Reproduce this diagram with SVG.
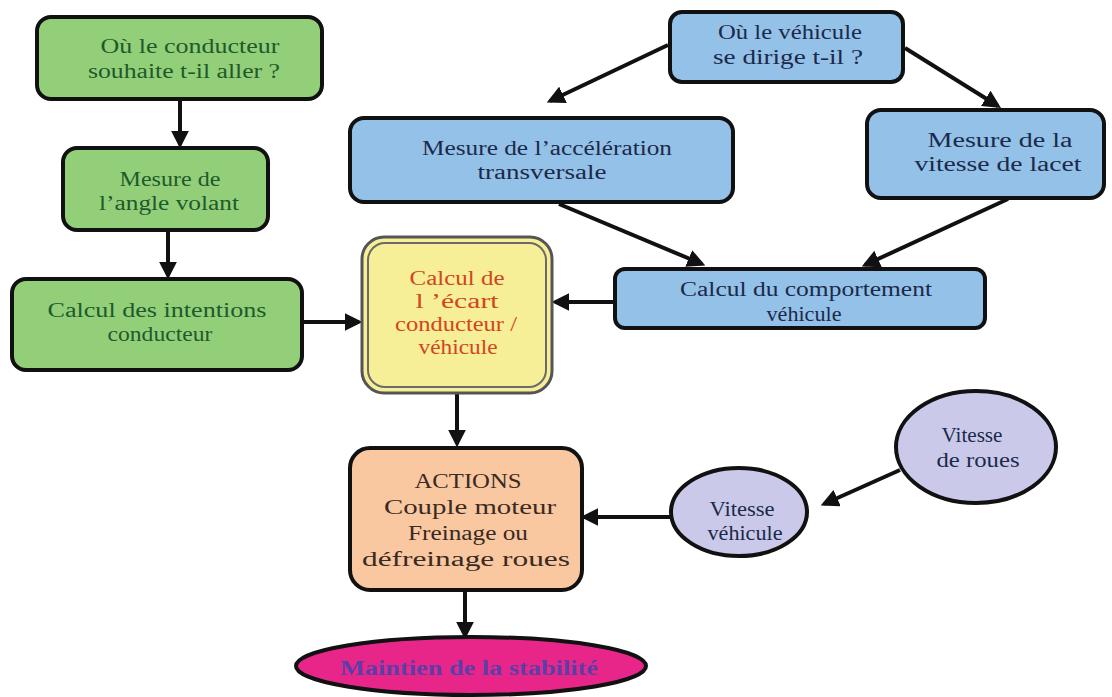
<svg xmlns="http://www.w3.org/2000/svg" width="1112" height="697" viewBox="0 0 1112 697">
<style>
.box{stroke:#111;stroke-width:4}
.g{fill:#93cf79}
.b{fill:#94c1e8}
.t{font-family:'Liberation Serif','DejaVu Serif',serif;font-size:20px;text-anchor:middle}
.tg{fill:#1f5a2c}
.tb{fill:#1b2a4a}
.tr{fill:#d2461e}
.to{fill:#3a2a22}
.tp{fill:#5b3fa8;font-weight:bold}
.c{stroke:#111;stroke-width:4;fill:none;marker-end:url(#ah)}
</style>
<defs>
<marker id="ah" viewBox="0 0 10 10" refX="8" refY="5" markerWidth="4.5" markerHeight="4.5" orient="auto" markerUnits="strokeWidth">
<path d="M0,0 L10,5 L0,10 z" fill="#111"/>
</marker>
</defs>
<rect width="1112" height="697" fill="#fff"/>
<g id="connectors">
<line class="c" x1="180" y1="100" x2="180" y2="145"/>
<line class="c" x1="168" y1="230" x2="168" y2="276"/>
<line class="c" x1="302" y1="322" x2="359" y2="322"/>
<line class="c" x1="668" y1="45" x2="550" y2="101"/>
<line class="c" x1="905" y1="48" x2="998" y2="106"/>
<line class="c" x1="559" y1="204" x2="702" y2="264"/>
<line class="c" x1="1008" y1="199" x2="865" y2="265"/>
<line class="c" x1="615" y1="302" x2="555" y2="302"/>
<line class="c" x1="457" y1="393" x2="457" y2="444"/>
<line class="c" x1="900" y1="470" x2="824" y2="504"/>
<line class="c" x1="670" y1="517" x2="584" y2="517"/>
<line class="c" x1="465" y1="590" x2="465" y2="636"/>
</g>
<g id="n1">
<rect class="box g" x="37" y="17" width="285" height="82" rx="14"/>
<text class="t tg" x="190" y="53" textLength="179" lengthAdjust="spacingAndGlyphs">Où le conducteur</text>
<text class="t tg" x="184" y="78" textLength="192" lengthAdjust="spacingAndGlyphs">souhaite t-il aller ?</text>
</g>
<g id="n2">
<rect class="box g" x="63" y="148" width="205" height="82" rx="14"/>
<text class="t tg" x="170" y="186" textLength="101" lengthAdjust="spacingAndGlyphs">Mesure de</text>
<text class="t tg" x="169" y="210" textLength="140" lengthAdjust="spacingAndGlyphs">l’angle volant</text>
</g>
<g id="n3">
<rect class="box g" x="12" y="279" width="290" height="91" rx="14"/>
<text class="t tg" x="157" y="317" textLength="219" lengthAdjust="spacingAndGlyphs">Calcul des intentions</text>
<text class="t tg" x="160" y="341" textLength="105" lengthAdjust="spacingAndGlyphs">conducteur</text>
</g>
<g id="n4">
<rect x="362" y="237" width="190" height="156" rx="22" fill="#f6ef98" stroke="#555" stroke-width="3"/>
<rect x="368" y="243" width="178" height="144" rx="17" fill="none" stroke="#6a6a6a" stroke-width="2"/>
<text class="t tr" x="457" y="285" textLength="95" lengthAdjust="spacingAndGlyphs">Calcul de</text>
<text class="t tr" x="457" y="308" textLength="83" lengthAdjust="spacingAndGlyphs">l ’écart</text>
<text class="t tr" x="456" y="331" textLength="122" lengthAdjust="spacingAndGlyphs">conducteur /</text>
<text class="t tr" x="458" y="354" textLength="79" lengthAdjust="spacingAndGlyphs">véhicule</text>
</g>
<g id="n5">
<rect class="box b" x="670" y="12" width="233" height="70" rx="12"/>
<text class="t tb" x="790" y="39" textLength="144" lengthAdjust="spacingAndGlyphs">Où le véhicule</text>
<text class="t tb" x="788" y="64" textLength="150" lengthAdjust="spacingAndGlyphs">se dirige t-il ?</text>
</g>
<g id="n6">
<rect class="box b" x="350" y="118" width="383" height="84" rx="14"/>
<text class="t tb" x="547" y="155" textLength="250" lengthAdjust="spacingAndGlyphs">Mesure de l’accélération</text>
<text class="t tb" x="542" y="179" textLength="129" lengthAdjust="spacingAndGlyphs">transversale</text>
</g>
<g id="n7">
<rect class="box b" x="867" y="110" width="237" height="88" rx="14"/>
<text class="t tb" x="1000" y="147" textLength="145" lengthAdjust="spacingAndGlyphs">Mesure de la</text>
<text class="t tb" x="998" y="171" textLength="167" lengthAdjust="spacingAndGlyphs">vitesse de lacet</text>
</g>
<g id="n8">
<rect class="box b" x="615" y="269" width="370" height="59" rx="10"/>
<text class="t tb" x="806" y="296" textLength="252" lengthAdjust="spacingAndGlyphs">Calcul du comportement</text>
<text class="t tb" x="804" y="321" textLength="75" lengthAdjust="spacingAndGlyphs">véhicule</text>
</g>
<g id="n9">
<rect class="box" x="350" y="448" width="232" height="142" rx="20" fill="#f9c7a0"/>
<text class="t to" x="468" y="488" textLength="107" lengthAdjust="spacingAndGlyphs">ACTIONS</text>
<text class="t to" x="470" y="514" textLength="172" lengthAdjust="spacingAndGlyphs">Couple moteur</text>
<text class="t to" x="468" y="540" textLength="120" lengthAdjust="spacingAndGlyphs">Freinage ou</text>
<text class="t to" x="466" y="566" textLength="208" lengthAdjust="spacingAndGlyphs">défreinage roues</text>
</g>
<g id="n10">
<ellipse class="box" cx="976" cy="447" rx="80" ry="56" fill="#cbc9ea"/>
<text class="t tb" x="972" y="442" textLength="61" lengthAdjust="spacingAndGlyphs">Vitesse</text>
<text class="t tb" x="978" y="467" textLength="83" lengthAdjust="spacingAndGlyphs">de roues</text>
</g>
<g id="n11">
<ellipse class="box" cx="739" cy="512" rx="68" ry="44" fill="#cbc9ea"/>
<text class="t tb" x="742" y="516" textLength="65" lengthAdjust="spacingAndGlyphs">Vitesse</text>
<text class="t tb" x="745" y="540" textLength="75" lengthAdjust="spacingAndGlyphs">véhicule</text>
</g>
<g id="n12">
<ellipse class="box" cx="471" cy="666" rx="175" ry="29" fill="#e8268a"/>
<text class="t tp" x="469" y="675" textLength="258" lengthAdjust="spacingAndGlyphs">Maintien de la stabilité</text>
</g>
</svg>
